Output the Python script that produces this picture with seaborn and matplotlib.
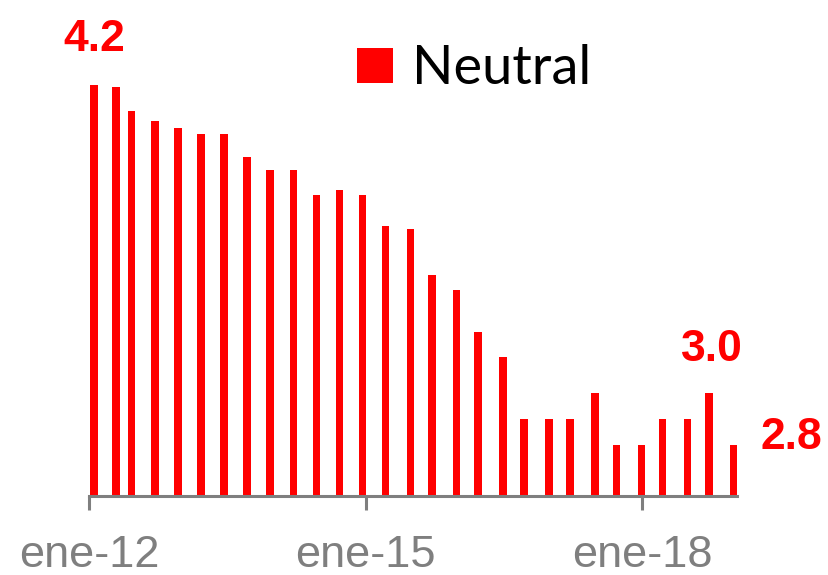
import matplotlib
matplotlib.use("Agg")
import matplotlib.pyplot as plt
import matplotlib.dates as mdates
import matplotlib.ticker as mticker
import seaborn as sns
import pandas as pd

# survey dates (roughly quarterly) and the "Neutral" reading
dates = ['2012-01-20', '2012-04-16', '2012-06-18', '2012-09-18', '2012-12-18',
         '2013-03-19', '2013-06-19', '2013-09-18', '2013-12-18',
         '2014-03-21', '2014-06-20', '2014-09-19', '2014-12-20',
         '2015-03-21', '2015-06-28', '2015-09-21', '2015-12-28',
         '2016-03-22', '2016-06-29', '2016-09-21', '2016-12-28',
         '2017-03-22', '2017-06-29', '2017-09-23', '2017-12-30',
         '2018-03-24', '2018-07-01', '2018-09-23', '2018-12-31']
neutral = [4.20, 4.19, 4.10, 4.06, 4.03, 4.01, 4.01, 3.92, 3.87,
           3.87, 3.77, 3.79, 3.77, 3.65, 3.64, 3.46, 3.40, 3.24,
           3.14, 2.90, 2.90, 2.90, 3.00, 2.80, 2.80, 2.90, 2.90,
           3.00, 2.80]
series_name = 'Neutral'
tick_dates = ['2012-01-01', '2015-01-01', '2018-01-01']
meses = ['ene', 'feb', 'mar', 'abr', 'may', 'jun',
         'jul', 'ago', 'sep', 'oct', 'nov', 'dic']
# labelled points: index, text
callouts = [(0, '4.2'), (27, '3.0'), (28, '2.8')]

df = pd.DataFrame({'fecha': pd.to_datetime(dates), 'valor': neutral})
df['x'] = mdates.date2num(df['fecha'])

sns.set_style('white')
plt.rcParams['font.family'] = ['Liberation Sans', 'DejaVu Sans']

red = '#ff0000'
grey = '#7f7f7f'

fig = plt.figure(figsize=(8.29, 5.75), dpi=100)
ax = fig.add_axes([0.1074, 0.1374, 0.7817, 0.8492])

sns.barplot(data=df, x='x', y='valor', native_scale=True, color=red,
            saturation=1, width=0.47, errorbar=None, linewidth=0,
            label=series_name, ax=ax)
handles, labels = ax.get_legend_handles_labels()
if ax.get_legend() is not None:
    ax.get_legend().remove()

ax.set_ylim(2.6, 4.5)
ax.set_xlim(mdates.date2num(pd.Timestamp('2012-01-01')),
            mdates.date2num(pd.Timestamp('2019-01-13')))

ax.set_xticks(mdates.date2num(pd.to_datetime(tick_dates)))
ax.xaxis.set_major_formatter(mticker.FuncFormatter(
    lambda v, p: '%s-%s' % (meses[mdates.num2date(v).month - 1],
                            mdates.num2date(v).strftime('%y'))))
ax.set_yticks([])
ax.set_xlabel('')
ax.set_ylabel('')

for s in ['left', 'top', 'right']:
    ax.spines[s].set_visible(False)
ax.spines['bottom'].set_color(grey)
ax.spines['bottom'].set_linewidth(2.2)
ax.tick_params(axis='x', direction='out', length=10, width=2.2, color=grey,
               labelcolor=grey, labelsize=32.5, pad=18, bottom=True)

# value labels
offsets = {0: (0, 24, 'center'), 27: (2, 23, 'center'), 28: (19, -3, 'left')}
for i, txt in callouts:
    dx, dy, ha = offsets[i]
    ax.annotate(txt, xy=(df['x'][i], df['valor'][i]), xytext=(dx, dy),
                textcoords='offset points', ha=ha, va='baseline',
                color=red, fontsize=32, fontweight='bold',
                annotation_clip=False)

fig.legend(handles, labels, loc='center left',
           bbox_to_anchor=(0.4306, 0.880), frameon=False,
           borderpad=0, borderaxespad=0, handlelength=0.67,
           handleheight=0.6, handletextpad=0.35, labelcolor='black',
           prop={'family': 'Lato', 'size': 39})

fig.savefig('out.png', dpi=100)
